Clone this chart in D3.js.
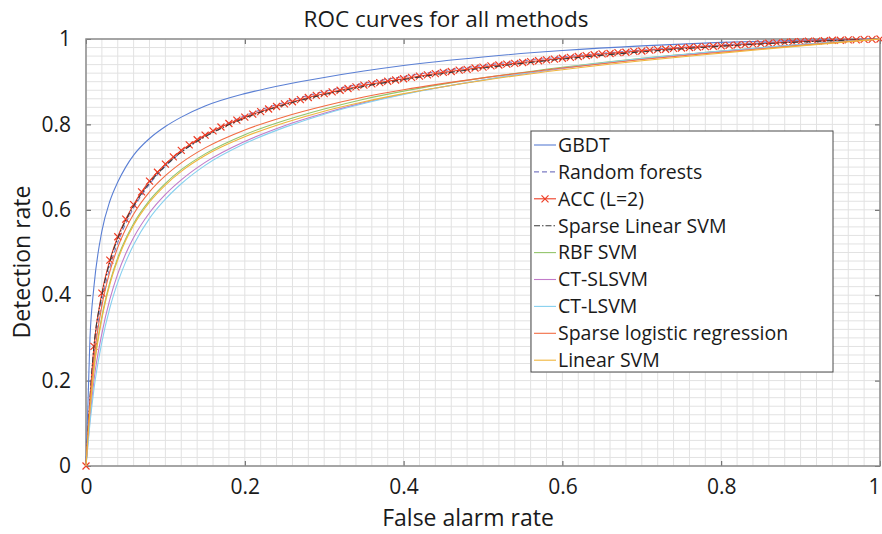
<!DOCTYPE html>
<html>
<head>
<meta charset="utf-8">
<script src="https://cdn.jsdelivr.net/npm/d3@7"></script>
<style>
  body { margin: 0; background: #fff; }
  svg { display: block; }
  text { font-family: "Open Sans", "Noto Sans", sans-serif; fill: #1a1a1a; }
</style>
</head>
<body>
<div id="chart"></div>
<script>
// shared false alarm rates for the smooth curves
const fpr = [0, 0.005, 0.01, 0.02, 0.03, 0.04, 0.05, 0.06, 0.08, 0.10, 0.12, 0.15, 0.20, 0.25, 0.30, 0.35, 0.40, 0.50, 0.60, 0.70, 0.80, 0.90, 1.00];

const gbdt = [0, 0.30, 0.42, 0.55, 0.62, 0.665, 0.70, 0.728, 0.767, 0.795, 0.817, 0.843, 0.872, 0.893, 0.910, 0.925, 0.938, 0.958, 0.973, 0.984, 0.992, 0.997, 1];
const randomForests = [0, 0.15, 0.26, 0.385, 0.465, 0.523, 0.568, 0.604, 0.66, 0.702, 0.735, 0.774, 0.82, 0.852, 0.877, 0.896, 0.912, 0.938, 0.958, 0.974, 0.986, 0.995, 1];
const sparseLinearSvm = [0, 0.16, 0.28, 0.40, 0.478, 0.533, 0.575, 0.609, 0.663, 0.703, 0.735, 0.771, 0.815, 0.846, 0.870, 0.889, 0.905, 0.932, 0.953, 0.970, 0.983, 0.993, 1];
const rbfSvm = [0, 0.13, 0.23, 0.35, 0.43, 0.488, 0.532, 0.568, 0.622, 0.662, 0.694, 0.731, 0.776, 0.809, 0.836, 0.859, 0.878, 0.909, 0.934, 0.955, 0.972, 0.987, 1];
const ctSlsvm = [0, 0.11, 0.20, 0.31, 0.39, 0.45, 0.497, 0.535, 0.593, 0.636, 0.670, 0.711, 0.760, 0.797, 0.826, 0.851, 0.871, 0.904, 0.931, 0.953, 0.971, 0.987, 1];
const ctLsvm = [0, 0.10, 0.18, 0.29, 0.37, 0.43, 0.478, 0.518, 0.58, 0.625, 0.661, 0.704, 0.755, 0.793, 0.824, 0.849, 0.870, 0.904, 0.932, 0.954, 0.972, 0.987, 1];
const sparseLogReg = [0, 0.15, 0.25, 0.375, 0.455, 0.512, 0.555, 0.59, 0.642, 0.68, 0.71, 0.745, 0.787, 0.818, 0.843, 0.864, 0.881, 0.909, 0.932, 0.952, 0.969, 0.985, 1];
const linearSvm = [0, 0.13, 0.225, 0.345, 0.425, 0.483, 0.528, 0.564, 0.618, 0.658, 0.69, 0.727, 0.771, 0.804, 0.831, 0.853, 0.872, 0.903, 0.928, 0.949, 0.967, 0.984, 1];

// ACC (L=2) is sampled every 0.01, one marker per sample
const accFpr = [0, 0.01, 0.02, 0.03, 0.04, 0.05, 0.06, 0.07, 0.08, 0.09,
  0.10, 0.11, 0.12, 0.13, 0.14, 0.15, 0.16, 0.17, 0.18, 0.19,
  0.20, 0.21, 0.22, 0.23, 0.24, 0.25, 0.26, 0.27, 0.28, 0.29,
  0.30, 0.31, 0.32, 0.33, 0.34, 0.35, 0.36, 0.37, 0.38, 0.39,
  0.40, 0.41, 0.42, 0.43, 0.44, 0.45, 0.46, 0.47, 0.48, 0.49,
  0.50, 0.51, 0.52, 0.53, 0.54, 0.55, 0.56, 0.57, 0.58, 0.59,
  0.60, 0.61, 0.62, 0.63, 0.64, 0.65, 0.66, 0.67, 0.68, 0.69,
  0.70, 0.71, 0.72, 0.73, 0.74, 0.75, 0.76, 0.77, 0.78, 0.79,
  0.80, 0.81, 0.82, 0.83, 0.84, 0.85, 0.86, 0.87, 0.88, 0.89,
  0.90, 0.91, 0.92, 0.93, 0.94, 0.95, 0.96, 0.97, 0.98, 0.99, 1.00];
const acc = [0, 0.28, 0.405, 0.482, 0.537, 0.578, 0.612, 0.642, 0.667, 0.688,
  0.707, 0.724, 0.739, 0.752, 0.764, 0.775, 0.785, 0.794, 0.802, 0.810,
  0.817, 0.824, 0.830, 0.836, 0.842, 0.848, 0.853, 0.858, 0.863, 0.868,
  0.872, 0.876, 0.880, 0.884, 0.888, 0.892, 0.895, 0.898, 0.901, 0.904,
  0.907, 0.910, 0.913, 0.916, 0.919, 0.922, 0.924, 0.927, 0.929, 0.932,
  0.934, 0.937, 0.939, 0.941, 0.943, 0.945, 0.947, 0.949, 0.951, 0.953,
  0.955, 0.957, 0.959, 0.961, 0.963, 0.965, 0.966, 0.968, 0.969, 0.971,
  0.972, 0.974, 0.975, 0.976, 0.978, 0.979, 0.980, 0.981, 0.982, 0.983,
  0.984, 0.985, 0.986, 0.987, 0.988, 0.989, 0.990, 0.991, 0.992, 0.993,
  0.994, 0.995, 0.995, 0.996, 0.997, 0.997, 0.998, 0.998, 0.999, 0.999, 1.000];

const methodNames = ["GBDT", "Random forests", "ACC (L=2)", "Sparse Linear SVM", "RBF SVM",
  "CT-SLSVM", "CT-LSVM", "Sparse logistic regression", "Linear SVM"];

const tickValues = [0, 0.2, 0.4, 0.6, 0.8, 1];
const tickLabels = ["0", "0.2", "0.4", "0.6", "0.8", "1"];

// look of each series, in legend/draw order
const seriesStyle = [
  { color: "#5a7fd4", dash: null },
  { color: "#7c7cc4", dash: "5,3" },
  { color: "#ee3d25", dash: null, marker: true },
  { color: "#3a3a3a", dash: "6,2,1.5,2" },
  { color: "#93c56b", dash: null },
  { color: "#c27bc9", dash: null },
  { color: "#86d0ef", dash: null },
  { color: "#f26c43", dash: null },
  { color: "#f0b63c", dash: null },
];

const seriesData = [
  { x: fpr, y: gbdt },
  { x: fpr, y: randomForests },
  { x: accFpr, y: acc },
  { x: fpr, y: sparseLinearSvm },
  { x: fpr, y: rbfSvm },
  { x: fpr, y: ctSlsvm },
  { x: fpr, y: ctLsvm },
  { x: fpr, y: sparseLogReg },
  { x: fpr, y: linearSvm },
];

const config = {
  width: 882,
  height: 534,
  margin: { top: 39, right: 2, bottom: 68, left: 86 },
};
const innerW = config.width - config.margin.left - config.margin.right;
const innerH = config.height - config.margin.top - config.margin.bottom;

const svg = d3.select("#chart").append("svg")
    .attr("width", config.width)
    .attr("height", config.height);

const chart = svg.append("g")
    .attr("transform", `translate(${config.margin.left},${config.margin.top})`);

const x = d3.scaleLinear().domain([0, 1]).range([0, innerW]);
const y = d3.scaleLinear().domain([0, 1]).range([innerH, 0]);

// minor grid every 0.02
const gridVals = x.ticks(50);
const grid = chart.append("g").attr("class", "grid");
grid.selectAll("line.v").data(gridVals).join("line")
    .attr("class", "v")
    .attr("x1", (d) => x(d)).attr("x2", (d) => x(d))
    .attr("y1", 0).attr("y2", innerH)
    .attr("stroke", "#e2e2e2").attr("stroke-width", 1);
grid.selectAll("line.h").data(gridVals).join("line")
    .attr("class", "h")
    .attr("y1", (d) => y(d)).attr("y2", (d) => y(d))
    .attr("x1", 0).attr("x2", innerW)
    .attr("stroke", "#e2e2e2").attr("stroke-width", 1);

// axes with inward ticks
const fmt = (d) => tickLabels[tickValues.indexOf(d)];
const xAxis = chart.append("g")
    .attr("transform", `translate(0,${innerH})`)
    .call(d3.axisBottom(x).tickValues(tickValues).tickFormat(fmt).tickSizeInner(-5).tickSizeOuter(0).tickPadding(13));
const yAxis = chart.append("g")
    .call(d3.axisLeft(y).tickValues(tickValues).tickFormat(fmt).tickSizeInner(-5).tickSizeOuter(0).tickPadding(15));
chart.append("g")
    .call(d3.axisTop(x).tickValues(tickValues).tickFormat("").tickSizeInner(-5).tickSizeOuter(0));
chart.append("g")
    .attr("transform", `translate(${innerW},0)`)
    .call(d3.axisRight(y).tickValues(tickValues).tickFormat("").tickSizeInner(-5).tickSizeOuter(0));

chart.selectAll(".domain").remove();
chart.selectAll(".tick line").attr("stroke", "#5a5a5a");
[xAxis, yAxis].forEach((a) => a.selectAll("text")
    .attr("font-size", 21)
    .attr("fill", "#1a1a1a")
    .attr("font-family", "'Open Sans', sans-serif"));
// last x label sits right at the page edge, nudge it in
xAxis.selectAll(".tick text").filter((d) => d === 1).attr("x", -6);

// plot box
chart.append("rect")
    .attr("width", innerW).attr("height", innerH)
    .attr("fill", "none").attr("stroke", "#8c8c8c").attr("stroke-width", 1.5);

// curves
const line = d3.line().x((d) => x(d[0])).y((d) => y(d[1])).curve(d3.curveMonotoneX);
const curves = chart.append("g");

seriesData.forEach((s, i) => {
  const pts = s.x.map((v, k) => [v, s.y[k]]);
  const st = seriesStyle[i];
  curves.append("path")
      .datum(pts)
      .attr("fill", "none")
      .attr("stroke", st.color)
      .attr("stroke-width", 1.1)
      .attr("stroke-dasharray", st.dash)
      .attr("d", line);
  if (st.marker) {
    curves.append("g").selectAll("path").data(pts).join("path")
        .attr("transform", (d) => `translate(${x(d[0])},${y(d[1])})`)
        .attr("d", "M-3.5,-3.5L3.5,3.5M-3.5,3.5L3.5,-3.5")
        .attr("stroke", st.color)
        .attr("stroke-width", 1.2);
  }
});

// title and axis labels
svg.append("text")
    .attr("x", 446).attr("y", 27)
    .attr("text-anchor", "middle")
    .attr("font-size", 22.5)
    .text("ROC curves for all methods");
svg.append("text")
    .attr("x", 468).attr("y", 526)
    .attr("text-anchor", "middle")
    .attr("font-size", 23)
    .text("False alarm rate");
svg.append("text")
    .attr("transform", "translate(30,262) rotate(-90)")
    .attr("text-anchor", "middle")
    .attr("font-size", 23)
    .text("Detection rate");

// legend
const legend = svg.append("g").attr("transform", "translate(531,131)");
legend.append("rect")
    .attr("width", 302).attr("height", 241)
    .attr("fill", "#fff").attr("stroke", "#4a4a4a").attr("stroke-width", 1);
const rows = legend.selectAll("g.row").data(methodNames).join("g")
    .attr("class", "row")
    .attr("transform", (d, i) => `translate(0,${14 + i * 26.9})`);
rows.append("line")
    .attr("x1", 3).attr("x2", 25)
    .attr("stroke", (d, i) => seriesStyle[i].color)
    .attr("stroke-dasharray", (d, i) => seriesStyle[i].dash)
    .attr("stroke-width", 1.1);
rows.filter((d, i) => seriesStyle[i].marker).append("path")
    .attr("transform", "translate(14,0)")
    .attr("d", "M-3.5,-3.5L3.5,3.5M-3.5,3.5L3.5,-3.5")
    .attr("stroke", "#ee3d25")
    .attr("stroke-width", 1.2);
rows.append("text")
    .attr("x", 27).attr("dy", "0.35em")
    .attr("font-size", 19.5)
    .text((d) => d);
</script>
</body>
</html>
